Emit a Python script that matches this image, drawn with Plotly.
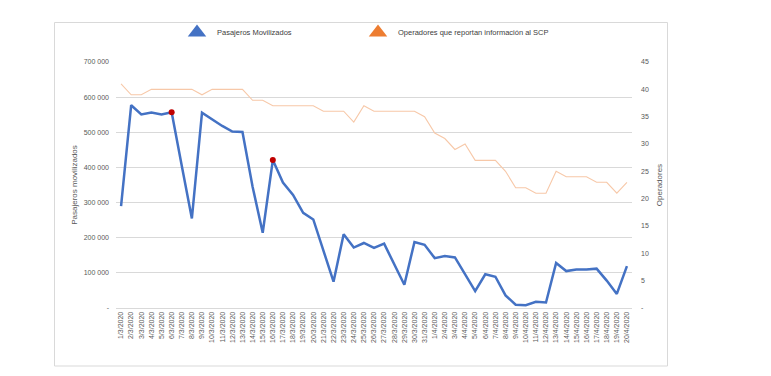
import plotly.graph_objects as go

fechas = [f"{d}/3/2020" for d in range(1, 32)] + [f"{d}/4/2020" for d in range(1, 21)]

pasajeros = [290000, 577000, 551000, 556000, 551000, 557000, 405000, 255000, 556000, 537000,
             518000, 502000, 501000, 345000, 214000, 421000, 357000, 322000, 271000, 252000,
             162000, 75000, 210000, 172000, 185000, 171000, 183000, 126000, 66000, 188000,
             180000,
             142000, 148000, 144000, 98000, 48000, 96000, 89000, 36000, 9500, 8000,
             17500, 15500, 128000, 105000, 109500, 109500, 112000, 78000, 40000, 119000]

operadores = [41, 39, 39, 40, 40, 40, 40, 40, 39, 40, 40, 40, 40, 38, 38, 37, 37, 37, 37, 37,
              36, 36, 36, 34, 37, 36, 36, 36, 36, 36, 35,
              32, 31, 29, 30, 27, 27, 27, 25, 22, 22, 21, 21, 25, 24, 24, 24, 23, 23, 21, 23]

destacados = [5, 15]  # indices of highlighted points

left_ticks = [0, 100000, 200000, 300000, 400000, 500000, 600000, 700000]
left_text = ["-", "100 000", "200 000", "300 000", "400 000", "500 000", "600 000", "700 000"]
right_ticks = [0, 5, 10, 15, 20, 25, 30, 35, 40, 45]
right_text = ["-", "5", "10", "15", "20", "25", "30", "35", "40", "45"]

BLUE = "#4472C4"
ORANGE = "#ED7D31"
ORANGE_LINE = "#F7C8A8"
GRAY = "#595959"
GRID = "#D9D9D9"
FONT = "Liberation Sans"

x = list(range(len(fechas)))

L, R, T, B = 116, 139, 62, 68
PW, PH = 771 - L - R, 376 - T - B

def px2paper_x(px):
    return (px - L) / PW

def px2paper_y(py):
    return (376 - B - py) / PH

fig = go.Figure()

fig.add_trace(go.Scatter(x=x, y=operadores, yaxis="y2", mode="lines",
                         line=dict(color=ORANGE_LINE, width=1.1), showlegend=False,
                         name="Operadores que reportan información al SCP"))
fig.add_trace(go.Scatter(x=x, y=pasajeros, mode="lines",
                         line=dict(color=BLUE, width=2.5), showlegend=False,
                         name="Pasajeros Movilizados"))
fig.add_trace(go.Scatter(x=[x[i] for i in destacados], y=[pasajeros[i] for i in destacados],
                         mode="markers", marker=dict(color="#C00000", size=6),
                         showlegend=False))
# legend entries
fig.add_trace(go.Scatter(x=[None], y=[None], mode="markers", name="Pasajeros Movilizados",
                         marker=dict(symbol="triangle-up", size=16, color=BLUE),
                         legend="legend"))
fig.add_trace(go.Scatter(x=[None], y=[None], mode="markers",
                         name="Operadores que reportan información al SCP",
                         marker=dict(symbol="triangle-up", size=16, color=ORANGE),
                         legend="legend2"))

fig.add_shape(type="rect", xref="paper", yref="paper",
              x0=px2paper_x(54.5), x1=px2paper_x(667.5),
              y0=px2paper_y(366), y1=px2paper_y(22.5),
              line=dict(color="#D9D9D9", width=1), fillcolor="rgba(0,0,0,0)", layer="below")

legend_common = dict(orientation="h", xanchor="left", yanchor="top",
                     font=dict(size=7.5, color="#404040"), itemsizing="trace",
                     bgcolor="rgba(0,0,0,0)")

fig.update_layout(
    width=771, height=376,
    margin=dict(l=L, r=R, t=T, b=B),
    paper_bgcolor="white", plot_bgcolor="white",
    font=dict(family=FONT, color=GRAY, size=7),
    legend=dict(x=px2paper_x(177), y=px2paper_y(18), **legend_common),
    legend2=dict(x=px2paper_x(358), y=px2paper_y(18), **legend_common),
    xaxis=dict(range=[-0.5, len(fechas) - 0.5], tickmode="array", tickvals=x,
               ticktext=fechas, tickangle=-90, tickfont=dict(size=7, color=GRAY),
               showgrid=False, showline=True, linecolor=GRID, linewidth=1,
               zeroline=False, ticks="", fixedrange=True, automargin=False),
    yaxis=dict(range=[0, 700000], tickmode="array", tickvals=left_ticks,
               ticktext=left_text, tickfont=dict(size=7, color=GRAY),
               showgrid=True, gridcolor=GRID, gridwidth=1, zeroline=False,
               ticks="", ticklabelstandoff=6, automargin=False,
               title=dict(text="Pasajeros movilizados", font=dict(size=8, color=GRAY),
                          standoff=4)),
    yaxis2=dict(range=[0, 45], overlaying="y", side="right", tickmode="array",
                tickvals=right_ticks, ticktext=right_text, automargin=False,
                tickfont=dict(size=7, color=GRAY), showgrid=False, zeroline=False,
                ticks="", ticklabelstandoff=8,
                title=dict(text="Operadores", font=dict(size=8, color=GRAY), standoff=8)),
)

fig.write_html("out.html", config={"displayModeBar": False},
               post_script="document.body.style.margin='0';")
